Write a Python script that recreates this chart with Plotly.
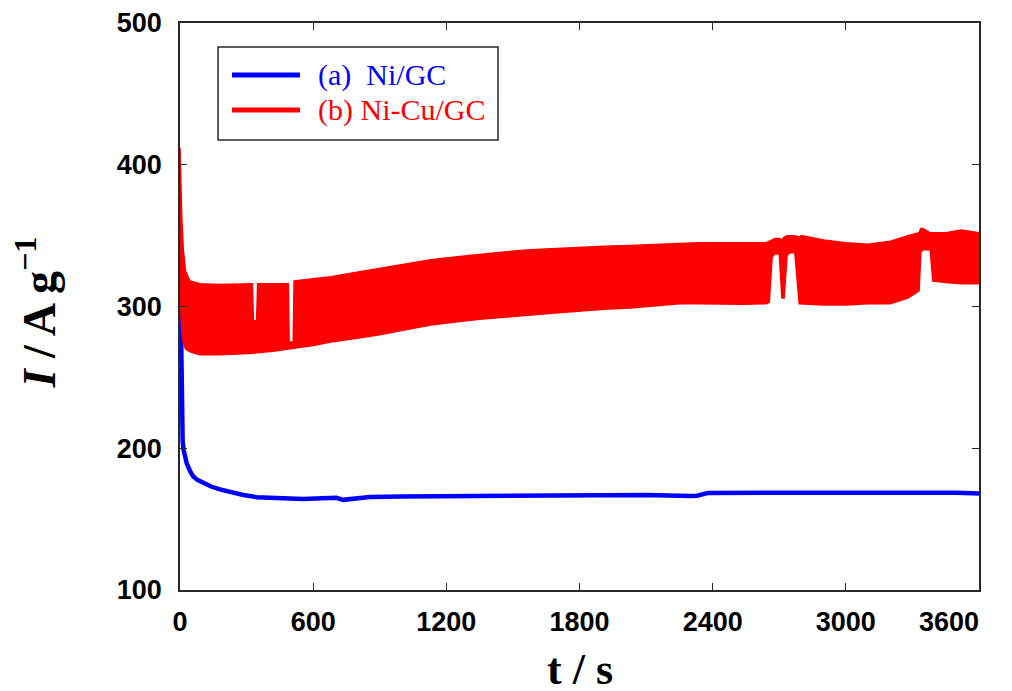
import plotly.graph_objects as go

# ---- data ----
time_blue = [0, 2, 4, 6, 8, 12, 16, 20, 30, 45, 60, 80, 105, 140, 180, 230, 285, 345, 405,
             480, 555, 640, 705, 735, 780, 855, 1000, 1300, 1500, 1712, 1900, 2100, 2300,
             2330, 2380, 2600, 3000, 3300, 3500, 3600]
current_blue = [334, 300, 262, 238, 222, 205, 199, 195, 189.5, 184, 180, 177.5, 175.5, 173,
                171, 169, 167, 165.5, 165, 164.3, 164.2, 164.8, 165, 163.6, 164.5, 165.6,
                166, 166.3, 166.6, 167, 166.8, 167, 166.3, 166.5, 168.5, 168.6, 168.4, 168.3,
                168.6, 168]

red_t = [0, 4, 8, 15, 25, 45, 90, 180, 260, 326, 331, 345, 350, 420, 488, 492, 510, 514,
         600, 680, 790, 900, 1010, 1130, 1240, 1350, 1460, 1580, 1690, 1800, 1910, 2030,
         2140, 2250, 2340, 2430, 2540, 2640, 2655, 2668, 2680, 2700, 2712, 2722, 2735,
         2748, 2770, 2790, 2800, 2900, 3000, 3100, 3200, 3280, 3330, 3338, 3348, 3380,
         3392, 3450, 3520, 3600]
red_upper = [412, 380, 362, 340, 325, 318, 316, 315.5, 316, 316, 290, 290, 316, 316, 316,
             275, 275, 318, 319.5, 321, 324, 327, 330, 333, 335, 337, 338.5, 340, 341, 342,
             342.5, 343, 343.5, 344.5, 345, 345, 345, 345, 346, 347, 348, 348, 347, 349, 350,
             350, 350, 349, 350, 347, 345, 344, 346, 350, 352, 355, 355, 352, 352, 352, 354,
             352]
red_lower = [340, 295, 283, 274, 270, 268, 266, 266, 266.5, 267, 267, 267, 267, 268.5, 270,
             270, 270, 270.5, 272.5, 275, 277.5, 280, 283.5, 287, 289, 291, 292.5, 294, 295.5,
             297, 298, 299, 300.5, 302, 302, 302, 301.5, 302, 303, 335, 337, 337, 306, 306,
             336, 338, 338, 302, 302, 301, 301, 302, 302, 306, 311, 338, 340, 340, 318, 317,
             316, 316]

x_ticks = [0, 600, 1200, 1800, 2400, 3000, 3600]
# the last label sits left of its tick in the reference (kept inside the frame)
x_tick_labels = ["0", "600", "1200", "1800", "2400", "3000", "3600" + "\u00a0" * 8]
y_ticks = [100, 200, 300, 400, 500]

series_labels = ["(a)\u00a0\u00a0Ni/GC", "(b) Ni-Cu/GC"]
blue = "#0000FF"
red = "#FF0000"
series_colors = [blue, red]

fig = go.Figure()
fig.add_trace(go.Scatter(x=time_blue, y=current_blue, mode="lines", name=series_labels[0],
                         line=dict(color=blue, width=4.5), showlegend=False))
band_x = red_t + red_t[::-1]
band_y = red_upper + red_lower[::-1]
fig.add_trace(go.Scatter(x=band_x, y=band_y, mode="lines", fill="toself", fillcolor=red,
                         name=series_labels[1], line=dict(color=red, width=1.5),
                         showlegend=False))

axis_col = "rgb(40,40,40)"
tickfont = dict(family="Liberation Sans, Arial", size=27, color="black", weight="bold")
common = dict(ticks="inside", ticklen=7, tickcolor=axis_col, tickwidth=1.3, showline=True,
              linecolor=axis_col, linewidth=1.5, mirror="ticks", showgrid=False,
              zeroline=False, tickfont=tickfont, automargin=False,
              ticklabeloverflow="allow")
fig.update_xaxes(range=[0, 3600], tickvals=x_ticks, ticktext=x_tick_labels,
                 ticklabelstandoff=7, **common)
fig.update_yaxes(range=[100, 500], tickvals=y_ticks, ticklabelstandoff=11, **common)

title_font = dict(family="Liberation Serif, Times New Roman", size=44, color="black",
                  weight="bold")
fig.add_annotation(text="t / s", xref="paper", yref="paper", x=0.5, y=-0.141,
                   xanchor="center", yanchor="middle", showarrow=False, font=title_font)
fig.add_annotation(text="<i>I</i> / A g<sup>\u22121</sup>", xref="paper", yref="paper",
                   x=-0.18, y=0.49, xanchor="center", yanchor="middle", textangle=-90,
                   showarrow=False, font=dict(title_font, size=46))

# legend box drawn in paper coordinates
fig.add_shape(type="rect", xref="paper", yref="paper", x0=0.0476, x1=0.398,
              y0=0.7937, y1=0.9577, line=dict(color=axis_col, width=1.5),
              fillcolor="white", layer="above")
legend_rows_y = [0.9083, 0.8466]
for lab, col, yy in zip(series_labels, series_colors, legend_rows_y):
    fig.add_shape(type="line", xref="paper", yref="paper", x0=0.0651, x1=0.1502,
                  y0=yy, y1=yy, line=dict(color=col, width=5), layer="above")
    fig.add_annotation(text=lab, xref="paper", yref="paper", x=0.1705, y=yy,
                       xanchor="left", yanchor="middle", showarrow=False,
                       font=dict(family="Liberation Serif, Times New Roman", size=30,
                                 color=col))

# the page body adds an 8px offset, so the figure is 8px smaller on each axis
fig.update_layout(
    width=1004, height=683, autosize=False,
    margin=dict(l=172, r=33, t=15, b=101, autoexpand=False),
    paper_bgcolor="white", plot_bgcolor="white", showlegend=False,
)

fig.write_html("out.html")
